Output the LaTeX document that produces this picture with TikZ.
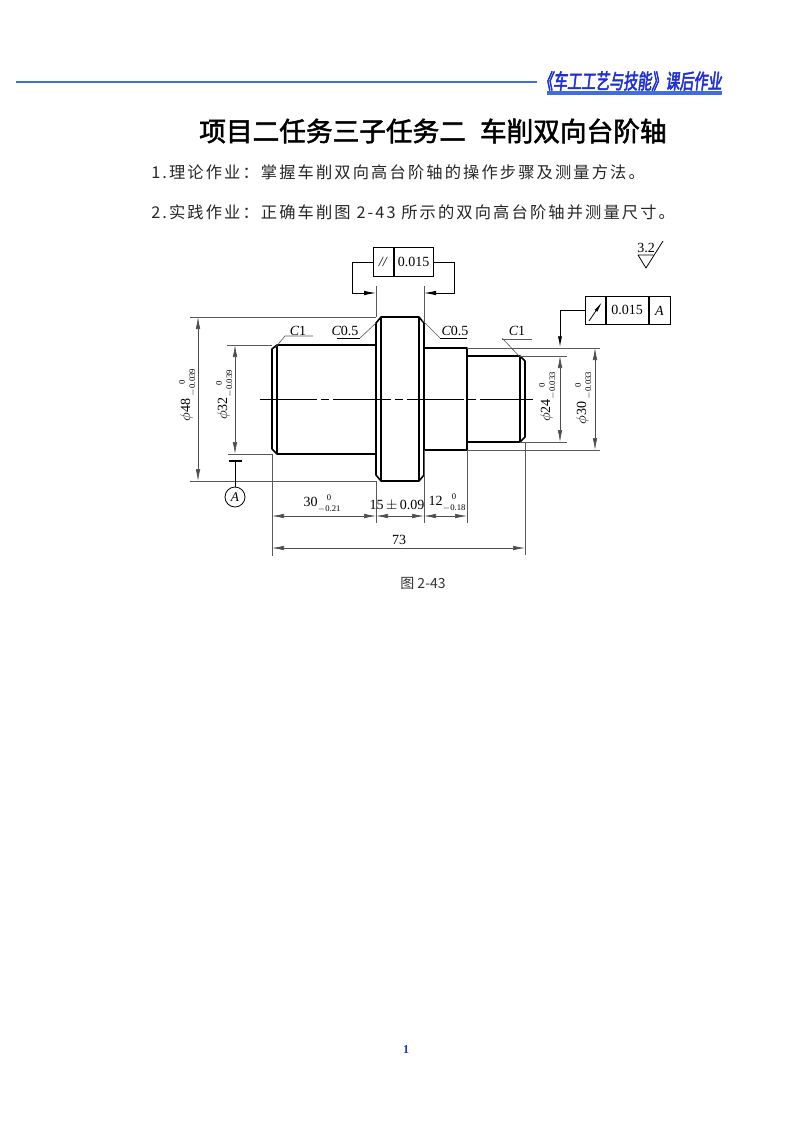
\documentclass[tikz,border=0pt]{standalone}
\usepackage{fontspec}
\usetikzlibrary{arrows.meta}
\setmainfont{Liberation Serif}
\newfontfamily\cjktitle[FakeBold=2]{Noto Sans CJK SC}
\newfontfamily\cjkbody[LetterSpace=13]{Noto Sans CJK SC}
\newfontfamily\cjkplain{Noto Sans CJK SC}
\newfontfamily\cjkhead[FakeStretch=0.68,FakeSlant=0.12,FakeBold=2.5]{Noto Sans CJK SC}
\definecolor{rulecol}{HTML}{3F6FDF}
\definecolor{headcol}{HTML}{1F2FD8}
\newcommand\tol[2]{{\renewcommand\arraystretch{0.85}\fontsize{6.5}{9}\selectfont\begin{tabular}[c]{@{}c@{}}#1\\#2\end{tabular}}}
\begin{document}
\begin{tikzpicture}[x=0.75pt,y=-0.75pt,>={Latex[length=9pt,width=3.4pt]},
  part/.style={line width=1.2pt,line join=round},
  fine/.style={line width=0.6pt},
  thin line/.style={line width=0.45pt,black!65},
  dim/.style={line width=0.45pt,black!70,<->},
  lab/.style={inner sep=0pt,font=\fontsize{10.5}{12}\selectfont},
  cell/.style={draw,line width=0.6pt,inner sep=0pt,anchor=north west,font=\fontsize{10.5}{12}\selectfont}]
\useasboundingbox (0,0) rectangle (793,1122);
% header
\draw[rulecol,line width=2.2pt] (16,82) -- (537,82);
\draw[rulecol,line width=2.4pt] (547,93) -- (722,93);
\node[anchor=east,inner sep=0pt,text=headcol] (head) at (722,81) {\cjkhead\fontsize{15.5}{18}\selectfont 《车工工艺与技能》课后作业};
% title and tasks
\node[anchor=west,inner sep=0pt] (title) at (199,131) {\cjktitle\fontsize{20}{24}\selectfont 项目二任务三子任务二\hspace{10.5pt}车削双向台阶轴};
\node[anchor=west,inner sep=0pt,text=black!85] (task1) at (151,172) {\cjkbody\fontsize{12.2}{14}\selectfont 1.理论作业：掌握车削双向高台阶轴的操作步骤及测量方法。};
\node[anchor=west,inner sep=0pt,text=black!85] (task2) at (151,212) {\cjkbody\fontsize{12.2}{14}\selectfont 2.实践作业：正确车削图 2-43 所示的双向高台阶轴并测量尺寸。};
% shaft
\draw[part] (272,449) -- (272,349) -- (277,345) -- (376,345)
            (272,449) -- (277,454) -- (376,454)
            (277,345) -- (277,454);
\draw[part] (376,323) -- (381,317) -- (419,317) -- (424,323) -- (424,475) -- (419,481) -- (381,481) -- (376,475) -- cycle
            (381,317) -- (381,481) (419,317) -- (419,481);
\draw[part] (424,348) -- (467,348) -- (467,450) -- (424,450);
\draw[part] (467,356) -- (520,356) -- (525,361) -- (525,437) -- (520,442) -- (467,442)
            (520,356) -- (520,442);
\draw[fine,dash pattern=on 43pt off 3pt on 6pt off 3pt] (260,399) -- (533,399);
% extension lines
\draw[thin line] (190,317) -- (376,317) (190,481) -- (376,481)
      (227,345) -- (272,345) (228,454) -- (272,454)
      (520,356) -- (567,356) (520,442) -- (567,442)
      (467,348) -- (600,348) (467,450) -- (600,450)
      (272,454) -- (272,556) (376,481) -- (376,523) (424,450) -- (424,523)
      (467,450) -- (467,523) (525,442) -- (525,555)
      (376,286) -- (376,317) (424,286) -- (424,323);
% diameters
\draw[dim] (198,317) -- (198,481);
\draw[dim] (235,345) -- (235,454);
\draw[dim] (560,356) -- (560,442);
\draw[dim] (595,348) -- (595,450);
\node[lab,rotate=90] (dia48) at (188,395) {$\phi$48\,\tol{0}{$-$0.039}};
\node[lab,rotate=90] (dia32) at (225,395) {$\phi$32\tol{0}{$-$0.039}};
\node[lab,rotate=90] (dia24) at (548,397) {$\phi$24\tol{0}{$-$0.033}};
\node[lab,rotate=90] (dia30) at (584,398) {$\phi$30\,\tol{0}{$-$0.033}};
% lengths
\draw[dim] (272,516) -- (376,516);
\draw[dim] (376,516) -- (424,516);
\draw[dim] (424,516) -- (467,516);
\draw[dim] (272,548) -- (525,548);
\node[lab] (len30) at (322,504) {30\tol{0}{$-$0.21}};
\node[lab] (len15) at (397,505) {15$\,\pm\,$0.09};
\node[lab] (len12) at (447,503) {12\tol{0}{$-$0.18}};
\node[lab] (len73) at (399,540) {73};
% chamfers
\node[lab] (cha) at (298,331) {\textit{C}1};
\node[lab] (chb) at (345,331) {\textit{C}0.5};
\node[lab] (chc) at (455,331) {\textit{C}0.5};
\node[lab] (chd) at (517,331) {\textit{C}1};
\draw[thin line] (313,336) -- (285,336) -- (275,348);
\draw[fine] (360,338) -- (337,338);
\draw[thin line] (360,338) -- (376,323);
\draw[fine] (440,338) -- (467,338);
\draw[thin line] (440,338) -- (422,320);
\draw[thin line] (532,339) -- (502,339);
\draw[thin line] (502,338) -- (520,357);
% parallelism frame
\node[cell,minimum width=15pt,minimum height=21.75pt] (parsym) at (373,247) {\textit{//}};
\node[cell,minimum width=29.25pt,minimum height=21.75pt] (parval) at (parsym.north east) {0.015};
\draw[fine,->] (parsym.west) -| (352,293) -- (376,293);
\draw[fine,->] (parval.east) -| (454,293) -- (424,293);
% runout frame
\node[cell,minimum width=15pt,minimum height=21pt] (runsym) at (585,296) {};
\node[cell,minimum width=31.5pt,minimum height=21pt] (runval) at (runsym.north east) {0.015};
\node[cell,minimum width=15.75pt,minimum height=21pt] (rundat) at (runval.north east) {\textit{A}};
\draw[fine,-{Latex[length=8pt,width=2.5pt]}] (589,321) -- (602,302);
\draw[fine,-{Latex[length=8pt,width=3pt]}] (runsym.west) -| (560,347);
% datum
\draw[line width=0.8pt] (229,461) -- (242,461);
\draw[fine] (235,461) -- (235,487);
\node[draw,circle,fine,minimum size=15pt,inner sep=0pt,font=\fontsize{10}{12}\selectfont] (datum) at (235,497) {\textit{A}};
% roughness
\node[lab] (rough) at (646,248) {3.2};
\draw[fine,line join=round] (653,255) -- (638,255) -- (646,268) -- (663,241);
% caption and page number
\node[inner sep=0pt,text=black!80] (caption) at (423,583) {\cjkplain\fontsize{10.5}{12}\selectfont 图 2-43};
\node[inner sep=0pt,text=headcol,font=\bfseries\fontsize{9}{11}\selectfont] (pageno) at (406,1050) {1};
\end{tikzpicture}
\end{document}
